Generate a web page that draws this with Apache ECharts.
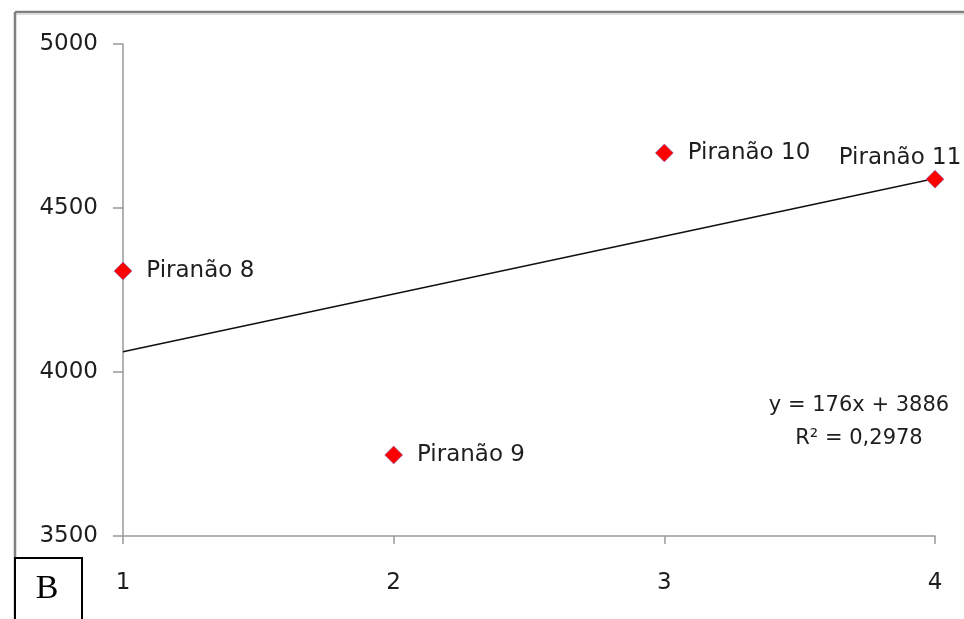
<!DOCTYPE html>
<html>
<head>
<meta charset="utf-8">
<script src="https://cdn.jsdelivr.net/npm/echarts@6/dist/echarts.min.js"></script>
<style>
  html, body { margin: 0; padding: 0; background: #fff; }
  #chart { width: 964px; height: 619px; }
</style>
</head>
<body>
<div id="chart"></div>
<script>
// Sample points: x position, measured value, label
const sampleNames = ['Piranão 8', 'Piranão 9', 'Piranão 10', 'Piranão 11'];
const sampleX = [1, 2, 3, 4];
const sampleY = [4308, 3747, 4668, 4588];

// Linear trend fitted to the samples
const trendSlope = 176;
const trendIntercept = 3886;
const trendR2 = '0,2978';

const yTicks = [3500, 4000, 4500, 5000];
const xTicks = [1, 2, 3, 4];

const FONT = 'DejaVu Sans';
const FS = 23;
const EQ_FS = 21;
const TEXT = '#1e1e1e';

const labelStyles = [
  { position: 'right', distance: 14 },
  { position: 'right', distance: 14 },
  { position: 'right', distance: 14 },
  { position: 'top', distance: 0, offset: [-35, 0] }
];

const points = sampleX.map((x, i) => ({
  value: [x, sampleY[i]],
  name: sampleNames[i],
  label: labelStyles[i]
}));

const trendData = [xTicks[0], xTicks[xTicks.length - 1]].map(x => [x, trendSlope * x + trendIntercept]);

const chart = echarts.init(document.getElementById('chart'), null, { renderer: 'canvas' });
chart.setOption({
  backgroundColor: '#ffffff',
  animation: false,
  grid: { left: 123, right: 29, top: 44, bottom: 83, containLabel: false },
  xAxis: {
    type: 'value',
    min: xTicks[0], max: xTicks[xTicks.length - 1], interval: 1,
    splitLine: { show: false },
    axisLine: { show: true, lineStyle: { color: '#999', width: 1.5 } },
    axisTick: { show: true, length: 8, lineStyle: { color: '#999', width: 1.5 } },
    axisLabel: { fontFamily: FONT, fontSize: FS, color: TEXT, margin: 36, formatter: v => String(v) }
  },
  yAxis: {
    type: 'value',
    min: yTicks[0], max: yTicks[yTicks.length - 1], interval: 500,
    splitLine: { show: false },
    axisLine: { show: true, lineStyle: { color: '#999', width: 1.5 } },
    axisTick: { show: true, length: 10, lineStyle: { color: '#999', width: 1.5 } },
    axisLabel: { fontFamily: FONT, fontSize: FS, color: TEXT, margin: 25, formatter: v => String(v) }
  },
  series: [
    {
      type: 'line',
      data: trendData,
      symbol: 'none',
      lineStyle: { color: '#111', width: 1.5 },
      z: 2,
      silent: true
    },
    {
      type: 'scatter',
      data: points,
      symbol: 'diamond',
      symbolSize: 18,
      itemStyle: { color: '#ff0000', opacity: 1, borderColor: '#7777cc', borderWidth: 0.6 },
      label: {
        show: true,
        formatter: p => p.name,
        fontFamily: FONT, fontSize: FS, color: TEXT
      },
      z: 3
    }
  ],
  graphic: [
    // outer frame (top and left edges)
    { type: 'line', shape: { x1: 15, y1: 12, x2: 964, y2: 12 }, style: { stroke: '#808080', lineWidth: 2.5 } },
    { type: 'line', shape: { x1: 15, y1: 14, x2: 964, y2: 14 }, style: { stroke: '#dddddd', lineWidth: 2 } },
    { type: 'line', shape: { x1: 15, y1: 12, x2: 15, y2: 619 }, style: { stroke: '#808080', lineWidth: 2.5 } },
    // regression equation
    { type: 'text', x: 859, y: 406, style: { text: 'y = 176x + 3886', font: EQ_FS + 'px "' + FONT + '"', fill: TEXT, align: 'center', verticalAlign: 'middle' } },
    { type: 'text', x: 859, y: 439, style: { text: 'R² = ' + trendR2, font: EQ_FS + 'px "' + FONT + '"', fill: TEXT, align: 'center', verticalAlign: 'middle' } },
    // panel letter box
    { type: 'rect', shape: { x: 15, y: 558, width: 67, height: 70 }, style: { fill: '#fff', stroke: '#000', lineWidth: 2 }, z: 10 },
    { type: 'text', x: 47, y: 589, style: { text: 'B', font: '34px "Liberation Serif"', fill: '#000', align: 'center', verticalAlign: 'middle' }, z: 11 }
  ]
});
</script>
</body>
</html>
